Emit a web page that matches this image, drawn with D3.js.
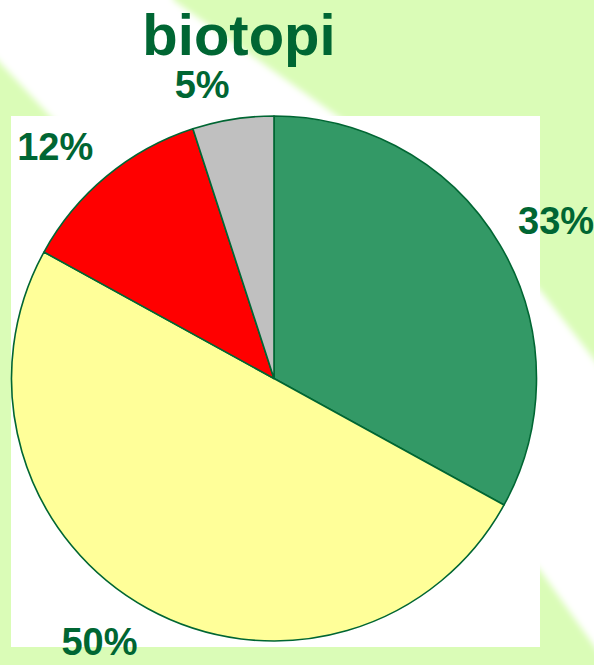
<!DOCTYPE html>
<html>
<head>
<meta charset="utf-8">
<script src="https://cdn.jsdelivr.net/npm/d3@7"></script>
<style>
  body { margin: 0; background: #dafcb7; }
  svg { display: block; }
</style>
</head>
<body>
<div id="app"></div>
<script>
(function (d3) {
  'use strict'

  // data
  const categories = ['verde', 'giallo', 'rosso', 'grigio']
  const values = [33, 50, 12, 5]
  const labels = ['33%', '50%', '12%', '5%']
  const colors = ['#339966', '#ffff99', '#ff0000', '#c0c0c0']
  const title = 'biotopi'

  const width = 594
  const height = 665
  const cx = 274
  const cy = 378.5
  const r = 262.5
  const dark = '#006633'

  const svg = d3.select('#app').append('svg')
    .attr('width', width)
    .attr('height', height)

  // background: light green with a soft white diagonal band
  const defs = svg.append('defs')
  defs.append('filter').attr('id', 'soft')
    .attr('x', '-10%').attr('y', '-10%').attr('width', '120%').attr('height', '120%')
    .append('feGaussianBlur').attr('stdDeviation', 3)

  svg.append('rect')
    .attr('width', width).attr('height', height)
    .attr('fill', '#dafcb7')

  const band = [[-10, -10], [173, -10], [173, 0], [343, 120], [540, 290], [604, 372],
    [604, 660], [540, 570], [50, 116], [-10, 52]]
  svg.append('path')
    .attr('d', d3.line()(band) + 'Z')
    .attr('fill', '#ffffff')
    .attr('filter', 'url(#soft)')

  // white plot area
  svg.append('rect')
    .attr('x', 11).attr('y', 116)
    .attr('width', 529).attr('height', 531)
    .attr('fill', '#ffffff')

  const pie = d3.pie().sort(null).value(function (d) { return d })
  const arcs = pie(values)
  const arc = d3.arc().innerRadius(0).outerRadius(r)

  const g = svg.append('g')
    .attr('transform', 'translate(' + cx + ',' + cy + ')')

  g.selectAll('path.slice')
    .data(arcs)
    .enter()
    .append('path')
    .attr('class', 'slice')
    .attr('d', arc)
    .attr('fill', function (d, i) { return colors[i] })
    .attr('stroke', dark)
    .attr('stroke-width', 1.6)
    .attr('stroke-linejoin', 'round')

  // labels: the box corner nearest the pie sits on the mid-angle ray, a gap outside the rim
  const gap = 21
  const fontSize = 38
  const lbl = g.selectAll('text.lbl')
    .data(arcs)
    .enter()
    .append('text')
    .attr('class', 'lbl')
    .attr('text-anchor', 'middle')
    .attr('dy', '0.36em')
    .style('font-family', '"Liberation Sans", Arial, sans-serif')
    .style('font-weight', 'bold')
    .style('font-size', fontSize + 'px')
    .style('fill', dark)
    .text(function (d, i) { return labels[i] })

  lbl.each(function (d) {
    const w = this.getComputedTextLength()
    const h = fontSize * 0.74
    const a = (d.startAngle + d.endAngle) / 2
    const s = Math.sin(a)
    const c = Math.cos(a)
    const px = s * (r + gap)
    const py = -c * (r + gap)
    d3.select(this)
      .attr('x', px + Math.sign(s) * w / 2)
      .attr('y', py - Math.sign(c) * h / 2)
  })

  svg.append('text')
    .attr('x', 239)
    .attr('y', 55)
    .attr('text-anchor', 'middle')
    .style('font-family', '"Liberation Sans", Arial, sans-serif')
    .style('font-weight', 'bold')
    .style('font-size', '58px')
    .style('fill', dark)
    .text(title)

})(d3)
</script>
</body>
</html>
